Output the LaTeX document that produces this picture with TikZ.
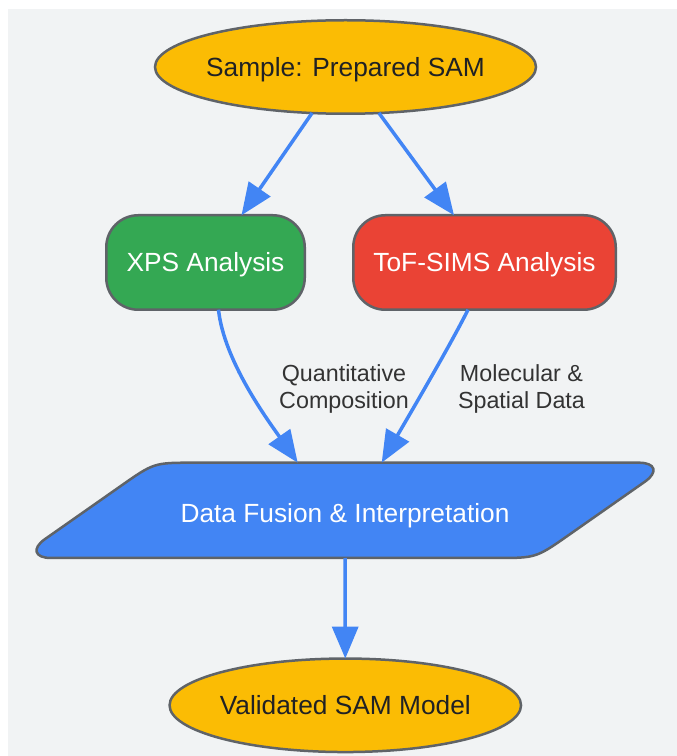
\documentclass[tikz,border=0pt]{standalone}
\usepackage{fontspec}
\setmainfont{Liberation Sans}
\usetikzlibrary{shapes.geometric,arrows.meta,calc}
\definecolor{bgc}{HTML}{F1F3F4}
\definecolor{gyellow}{HTML}{FBBC04}
\definecolor{ggreen}{HTML}{34A853}
\definecolor{gred}{HTML}{EA4335}
\definecolor{gblue}{HTML}{4285F4}
\definecolor{strokegray}{HTML}{5F6368}
\definecolor{darktext}{HTML}{202124}
\definecolor{labeltext}{HTML}{333333}
\begin{document}
\begin{tikzpicture}[x=1pt,y=1pt,
  every node/.style={inner sep=0pt, outer sep=0pt},
  shapebox/.style={draw=strokegray, line width=2.5pt, text height=24pt, text depth=5.2pt, font=\fontsize{26.3}{30}\selectfont},
  terminal/.style={shapebox, ellipse, fill=gyellow, text=darktext},
  procbox/.style={shapebox, rectangle, rounded corners=32pt, text=white},
  flow/.style={draw=gblue, line width=3.5pt, -{Triangle[length=32pt,width=26pt]}},
  edgelabel/.style={align=center, text=labeltext, font=\fontsize{23.3}{26.7}\selectfont}
]
\useasboundingbox (0,0) rectangle (677,756);
\fill[bgc] (8,0) rectangle (677,747);

% nodes
\node[terminal, minimum width=381pt, minimum height=93.5pt] (sample) at (345.5,689) {\makebox[0pt]{Sample: Prepared SAM}};
\node[procbox, fill=ggreen, minimum width=198.5pt, minimum height=94.5pt] (xps) at (205.5,493.5) {XPS Analysis};
\node[procbox, fill=gred, minimum width=262.5pt, minimum height=94.5pt] (tof) at (484.5,493.5) {ToF-SIMS Analysis};

% fusion parallelogram
\draw[draw=strokegray, fill=gblue, line width=2.5pt]
  (51,198) -- (496,198) .. controls (536,198) .. (568.8,221)
  -- (645,274.4) .. controls (658.5,283.9) and (655.5,293.3) .. (639,293.3)
  -- (194,293.3) .. controls (154,293.3) .. (121.2,270.3)
  -- (45,216.9) .. controls (31.5,207.5) and (34.5,198) .. (51,198) -- cycle;
\node[rectangle, minimum width=518pt, minimum height=95.3pt, text=white, text height=29.4pt, text depth=5.2pt, font=\fontsize{26.3}{30}\selectfont] (fusion) at (345,245.65) {Data Fusion \& Interpretation};

\node[terminal, minimum width=351.5pt, minimum height=93.5pt] (valid) at (345.3,50.7) {\makebox[0pt]{Validated SAM Model}};

% connectors
\draw[flow] (sample.-126) -- ($(xps.north)+(36,0)$);
\draw[flow] (sample.-54) -- ($(tof.north)+(-30.5,0)$);
\draw[flow] ($(xps.south)+(13,0)$) .. controls (224,395) and (267.7,336) .. ($(fusion.north)+(-47.3,0)$);
\draw[flow] ($(tof.south)+(-16.5,0)$) .. controls (450,410) and (401.7,328) .. ($(fusion.north)+(36.7,0)$);
\draw[flow] (fusion.south) -- (valid.north);

% edge labels
\node[edgelabel] (lblq) at (344,367) {Quantitative\\Composition};
\node[edgelabel] (lblm) at (521.5,367) {Molecular \&\\Spatial Data};
\end{tikzpicture}
\end{document}
